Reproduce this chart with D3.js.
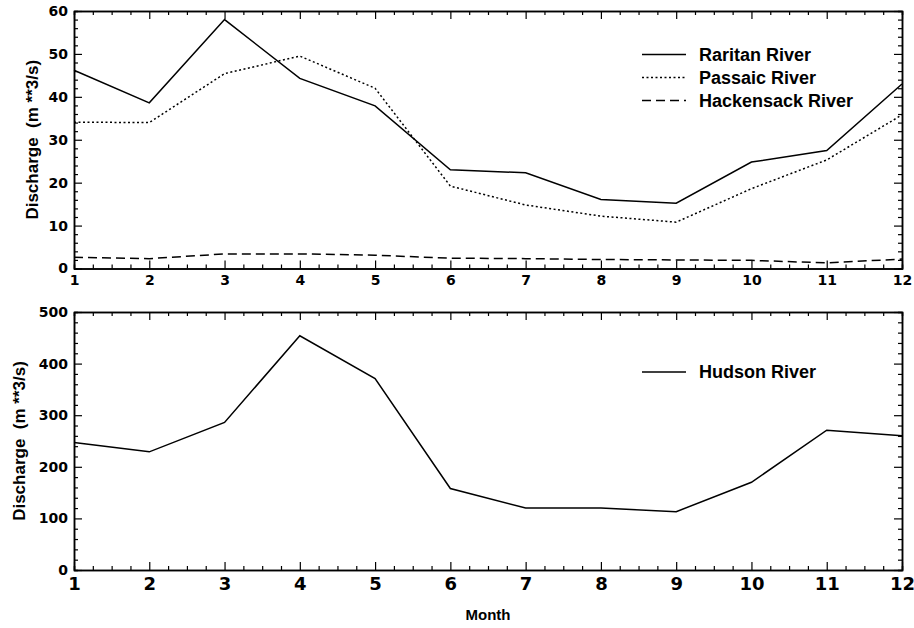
<!DOCTYPE html>
<html>
<head>
<meta charset="utf-8">
<script src="https://cdn.jsdelivr.net/npm/d3@7"></script>
<style>
  body { margin: 0; background: #fff; }
  svg { display: block; }
</style>
</head>
<body>
<div id="chart"></div>
<script>
// months on the x axis
const months = [1, 2, 3, 4, 5, 6, 7, 8, 9, 10, 11, 12];

// discharge values (m**3/s)
const raritan    = [46.2, 38.6, 58.0, 44.3, 37.9, 23.0, 22.3, 16.1, 15.2, 24.8, 27.5, 43.0];
const passaic    = [34.1, 34.0, 45.4, 49.5, 42.0, 19.2, 14.8, 12.2, 10.8, 18.6, 25.3, 35.8];
const hackensack = [2.6, 2.3, 3.4, 3.4, 3.1, 2.4, 2.3, 2.1, 2.0, 1.9, 1.3, 2.2];
const hudson     = [247, 229, 286, 454, 371, 158, 120, 120, 113, 170, 271, 260];

const topTicks = [0, 10, 20, 30, 40, 50, 60];
const bottomTicks = [0, 100, 200, 300, 400, 500];

const topSeries = [
  {name: "Raritan River", values: raritan, dash: null},
  {name: "Passaic River", values: passaic, dash: "2,2.5"},
  {name: "Hackensack River", values: hackensack, dash: "9,5"}
];
const bottomSeries = [
  {name: "Hudson River", values: hudson, dash: null}
];

const W = 914, H = 628;
const svg = d3.select("#chart").append("svg")
  .attr("width", W).attr("height", H);

const x = d3.scaleLinear().domain([1, 12]).range([74, 902]);
const minorX = d3.range(1, 12.001, 0.25).filter(d => d % 1 !== 0);

const labelFont = "'Liberation Sans', Arial, Helvetica, sans-serif";
const tickFont = "'DejaVu Sans', sans-serif";

function drawPanel(opt) {
  const y = d3.scaleLinear().domain(opt.domain).range(opt.range);
  const top = opt.range[1], bottom = opt.range[0];
  const g = svg.append("g");

  // minor ticks, all four sides
  const minorY = d3.range(opt.domain[0], opt.domain[1] + 0.001, opt.minorStep)
    .filter(d => opt.ticks.indexOf(d) < 0);
  g.append("g").attr("transform", `translate(0,${bottom})`)
    .call(d3.axisBottom(x).tickValues(minorX).tickSize(-4).tickFormat(""));
  g.append("g").attr("transform", `translate(0,${top})`)
    .call(d3.axisTop(x).tickValues(minorX).tickSize(-4).tickFormat(""));
  g.append("g").attr("transform", `translate(${x.range()[0]},0)`)
    .call(d3.axisLeft(y).tickValues(minorY).tickSize(-4).tickFormat(""));
  g.append("g").attr("transform", `translate(${x.range()[1]},0)`)
    .call(d3.axisRight(y).tickValues(minorY).tickSize(-4).tickFormat(""));

  // major ticks
  const xb = g.append("g").attr("class", "xb").attr("transform", `translate(0,${bottom})`)
    .call(d3.axisBottom(x).tickValues(months).tickSizeInner(-8).tickSizeOuter(0).tickPadding(opt.xPad));
  g.append("g").attr("transform", `translate(0,${top})`)
    .call(d3.axisTop(x).tickValues(months).tickSizeInner(-8).tickSizeOuter(0).tickFormat(""));
  const yl = g.append("g").attr("transform", `translate(${x.range()[0]},0)`)
    .call(d3.axisLeft(y).tickValues(opt.ticks).tickSizeInner(-8).tickSizeOuter(0).tickPadding(6));
  g.append("g").attr("transform", `translate(${x.range()[1]},0)`)
    .call(d3.axisRight(y).tickValues(opt.ticks).tickSizeInner(-8).tickSizeOuter(0).tickFormat(""));

  g.selectAll(".domain").attr("stroke", "#000").attr("stroke-width", 1.5);
  g.selectAll(".tick line").attr("stroke", "#000").attr("stroke-width", 1.2);

  xb.selectAll("text")
    .style("font-family", tickFont).style("font-weight", "bold")
    .style("font-size", opt.xFont + "px").attr("fill", "#000");
  yl.selectAll("text")
    .style("font-family", tickFont).style("font-weight", "bold")
    .style("font-size", "14px").attr("fill", "#000");

  // y axis title
  g.append("text")
    .attr("transform", `translate(${opt.titleX},${(top + bottom) / 2}) rotate(-90)`)
    .attr("text-anchor", "middle")
    .attr("dominant-baseline", "middle")
    .style("font-family", labelFont).style("font-weight", "bold")
    .style("font-size", "17px")
    .style("white-space", "pre")
    .text("Discharge  (m **3/s)");

  // lines
  const line = d3.line().x((d, i) => x(months[i])).y(d => y(d));
  opt.series.forEach(s => {
    g.append("path")
      .datum(s.values)
      .attr("d", line)
      .attr("fill", "none")
      .attr("stroke", "#000")
      .attr("stroke-width", 1.5)
      .attr("stroke-dasharray", s.dash);
  });

  // legend
  const leg = g.append("g");
  opt.series.forEach((s, i) => {
    const ly = opt.legendY + i * 23;
    leg.append("line")
      .attr("x1", 642).attr("x2", 686).attr("y1", ly).attr("y2", ly)
      .attr("stroke", "#000").attr("stroke-width", 1.5)
      .attr("stroke-dasharray", s.dash);
    leg.append("text")
      .attr("x", 699).attr("y", ly)
      .attr("dominant-baseline", "central")
      .style("font-family", labelFont).style("font-weight", "bold")
      .style("font-size", "18px")
      .text(s.name);
  });
}

drawPanel({
  domain: [0, 60], range: [268.5, 11], ticks: topTicks, minorStep: 2,
  series: topSeries, legendY: 54.5, titleX: 34, xFont: 14, xPad: 7
});

drawPanel({
  domain: [0, 500], range: [570, 312], ticks: bottomTicks, minorStep: 20,
  series: bottomSeries, legendY: 372, titleX: 21, xFont: 18, xPad: 7
});

// x axis title
svg.append("text")
  .attr("x", 488).attr("y", 620)
  .attr("text-anchor", "middle")
  .style("font-family", labelFont).style("font-weight", "bold")
  .style("font-size", "15px")
  .text("Month");
</script>
</body>
</html>
